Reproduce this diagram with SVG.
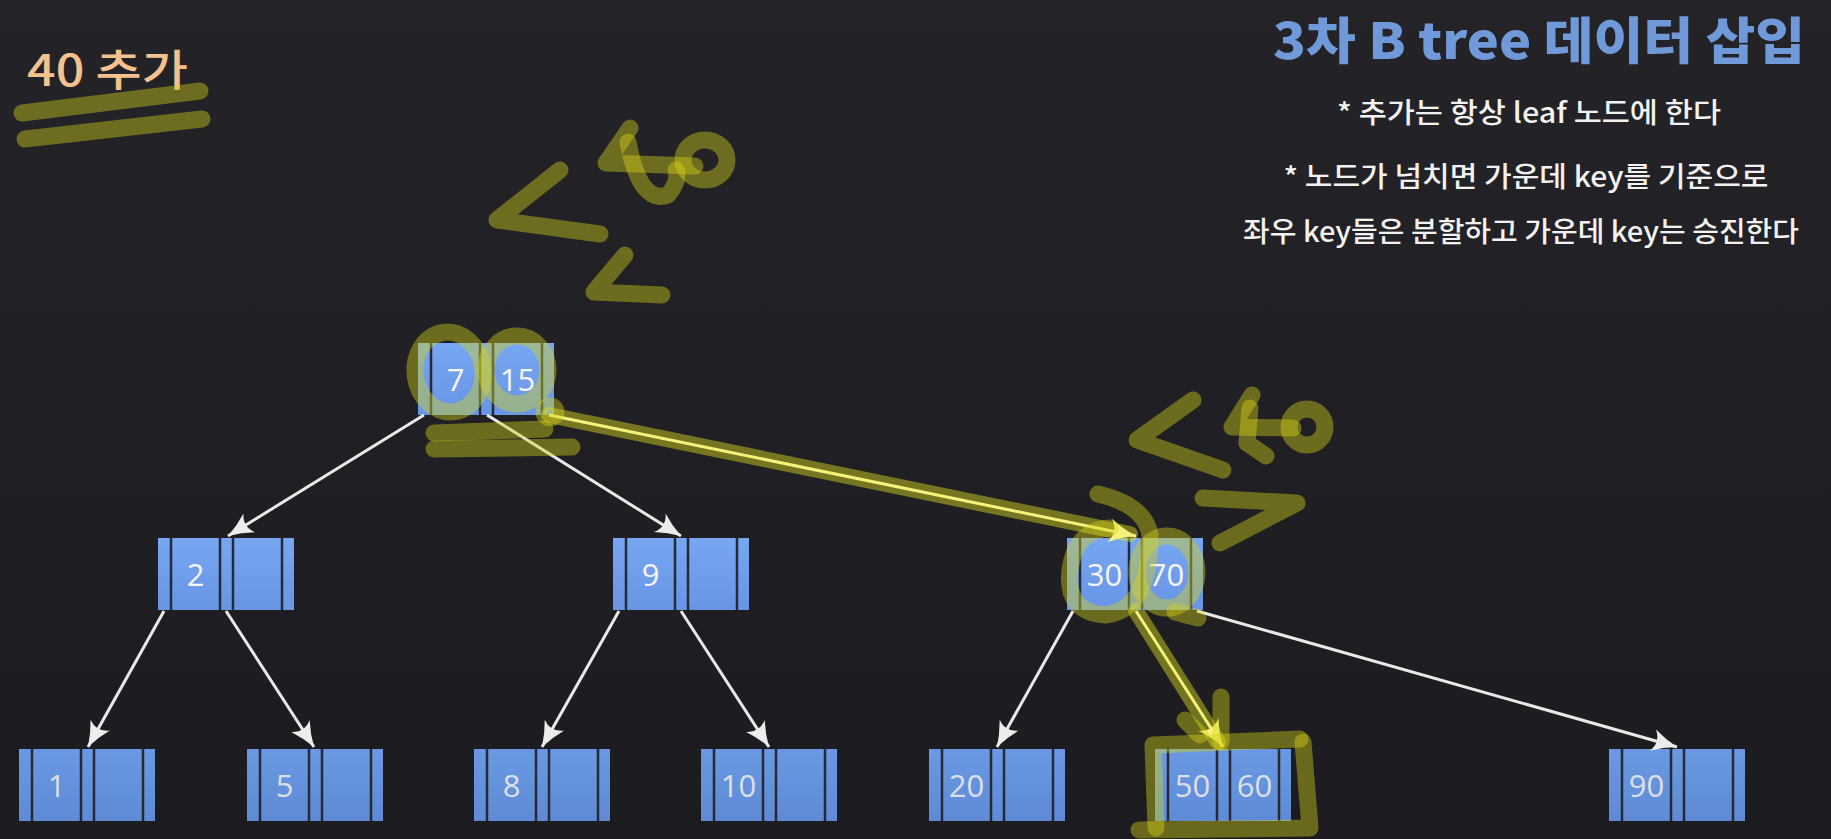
<svg xmlns="http://www.w3.org/2000/svg" width="1831" height="839" viewBox="0 0 1831 839">
<defs>
<linearGradient id="bg" x1="0" y1="0" x2="0" y2="1"><stop offset="0" stop-color="#242327"/><stop offset="1" stop-color="#1c1b1f"/></linearGradient>
<linearGradient id="nb" x1="0" y1="0" x2="0" y2="1"><stop offset="0" stop-color="#77a6f2"/><stop offset="1" stop-color="#6895e4"/></linearGradient>
<linearGradient id="lb" x1="0" y1="0" x2="0" y2="1"><stop offset="0" stop-color="#6a98e2"/><stop offset="1" stop-color="#5f8bd6"/></linearGradient>
<marker id="aw" markerUnits="userSpaceOnUse" markerWidth="30" markerHeight="30" viewBox="0 0 30 30" refX="27" refY="15" orient="auto"><path d="M2,4 Q14,11 27,15 Q14,19 2,26 Q10,15 2,4 Z" fill="#ececec"/></marker>
<marker id="ay" markerUnits="userSpaceOnUse" markerWidth="32" markerHeight="32" viewBox="0 0 32 32" refX="29" refY="16" orient="auto"><path d="M2,4 Q15,12 29,16 Q15,20 2,28 Q11,16 2,4 Z" fill="#f4f27a"/></marker>
<style>
.node rect.b{fill:url(#nb)}
.leaf rect.b{fill:url(#lb)}
.dv{stroke:#262a36;stroke-width:2.5}
.k{font-family:"Open Sans","Noto Sans",sans-serif;font-size:31px;fill:#f4f6fa;text-anchor:middle}
.leaf .k{fill:#dcdfe6}
.c{stroke:#e9e9e9;stroke-width:3;fill:none;marker-end:url(#aw)}
.cy{stroke:#f4f27a;stroke-width:3;fill:none;marker-end:url(#ay)}
.halo{stroke:rgba(225,225,30,0.45);stroke-width:16;fill:none;stroke-linecap:round}
.hl{stroke:rgba(215,213,25,0.42);stroke-width:17;fill:none;stroke-linecap:round;stroke-linejoin:round}
.t{font-family:"Noto Sans CJK KR","Noto Sans",sans-serif;fill:#f2f2f2;font-size:28px;font-weight:500;text-anchor:middle}
</style>
<g id="cellsNode">
<line class="dv" x1="13" y1="0" x2="13" y2="72"/><line class="dv" x1="62" y1="0" x2="62" y2="72"/><line class="dv" x1="75" y1="0" x2="75" y2="72"/><line class="dv" x1="124" y1="0" x2="124" y2="72"/>
</g>
</defs>
<rect width="1831" height="839" fill="url(#bg)"/>

<text x="1539" y="59" font-family="Noto Sans CJK KR, Noto Sans, sans-serif" font-weight="900" font-size="50" fill="#7099da" text-anchor="middle" textLength="532" lengthAdjust="spacingAndGlyphs">3차 B tree 데이터 삽입</text>
<text class="t" x="1529" y="123" textLength="384" lengthAdjust="spacingAndGlyphs">* 추가는 항상 leaf 노드에 한다</text>
<text class="t" x="1526" y="187" textLength="485" lengthAdjust="spacingAndGlyphs">* 노드가 넘치면 가운데 key를 기준으로</text>
<text class="t" x="1521" y="242" textLength="556" lengthAdjust="spacingAndGlyphs">좌우 key들은 분할하고 가운데 key는 승진한다</text>
<text x="27" y="86" font-family="Noto Sans CJK KR, Noto Sans, sans-serif" font-weight="500" font-size="43" fill="#f5c28f" textLength="161" lengthAdjust="spacingAndGlyphs">40 추가</text>

<g id="root" class="node" transform="translate(418,343)"><rect class="b" width="136" height="72"/><use href="#cellsNode"/><text class="k" x="37.5" y="48">7</text><text class="k" x="99.5" y="48">15</text></g>
<g id="n2" class="node" transform="translate(158,538)"><rect class="b" width="136" height="72"/><use href="#cellsNode"/><text class="k" x="37.5" y="48">2</text></g>
<g id="n9" class="node" transform="translate(613,538)"><rect class="b" width="136" height="72"/><use href="#cellsNode"/><text class="k" x="37.5" y="48">9</text></g>
<g id="n30" class="node" transform="translate(1067,538)"><rect class="b" width="136" height="72"/><use href="#cellsNode"/><text class="k" x="37.5" y="48">30</text><text class="k" x="99.5" y="48">70</text></g>
<g id="l1" class="leaf" transform="translate(19,749)"><rect class="b" width="136" height="72"/><use href="#cellsNode"/><text class="k" x="37.5" y="48">1</text></g>
<g id="l5" class="leaf" transform="translate(247,749)"><rect class="b" width="136" height="72"/><use href="#cellsNode"/><text class="k" x="37.5" y="48">5</text></g>
<g id="l8" class="leaf" transform="translate(474,749)"><rect class="b" width="136" height="72"/><use href="#cellsNode"/><text class="k" x="37.5" y="48">8</text></g>
<g id="l10" class="leaf" transform="translate(701,749)"><rect class="b" width="136" height="72"/><use href="#cellsNode"/><text class="k" x="37.5" y="48">10</text></g>
<g id="l20" class="leaf" transform="translate(929,749)"><rect class="b" width="136" height="72"/><use href="#cellsNode"/><text class="k" x="37.5" y="48">20</text></g>
<g id="l50" class="leaf" transform="translate(1155,749)"><rect class="b" width="136" height="72"/><use href="#cellsNode"/><text class="k" x="37.5" y="48">50</text><text class="k" x="99.5" y="48">60</text></g>
<g id="l90" class="leaf" transform="translate(1609,749)"><rect class="b" width="136" height="72"/><use href="#cellsNode"/><text class="k" x="37.5" y="48">90</text></g>

<g id="connectors">
<line class="c" x1="424" y1="415" x2="228" y2="536"/>
<line class="c" x1="487" y1="415" x2="681" y2="536"/>
<line class="c" x1="164" y1="611" x2="88" y2="747"/>
<line class="c" x1="226" y1="611" x2="314" y2="747"/>
<line class="c" x1="619" y1="611" x2="542" y2="747"/>
<line class="c" x1="681" y1="611" x2="769" y2="747"/>
<line class="c" x1="1073" y1="611" x2="997" y2="747"/>
<line class="c" x1="1197" y1="611" x2="1677" y2="747"/>
<line class="halo" x1="549" y1="415" x2="1130" y2="534"/>
<line class="cy" x1="549" y1="415" x2="1136" y2="536"/>
<line class="halo" x1="1136" y1="611" x2="1218" y2="742"/>
<line class="cy" x1="1136" y1="611" x2="1223" y2="747"/>
</g>

<g id="scribbles">
<line class="hl" x1="22" y1="113" x2="200" y2="91"/>
<line class="hl" x1="25" y1="139" x2="202" y2="119"/>
<path class="hl" d="M560,170 L497,220 L600,234"/>
<path class="hl" d="M625,255 L594,292 L662,295"/>
<path class="hl" d="M630,128 L606,163 L695,166"/>
<path class="hl" d="M628,142 Q640,205 668,195 Q680,180 676,170"/>
<ellipse class="hl" cx="705" cy="160" rx="22" ry="20"/>
<ellipse class="hl" cx="449" cy="372" rx="34" ry="40" transform="rotate(-8 449 372)"/>
<ellipse class="hl" cx="517" cy="370" rx="31" ry="34"/>
<circle class="hl" cx="550" cy="412" r="6"/>
<line class="hl" x1="434" y1="433" x2="545" y2="429" stroke-width="14"/>
<line class="hl" x1="434" y1="449" x2="572" y2="447" stroke-width="14"/>
<path class="hl" d="M1193,400 L1137,440 L1223,470"/>
<path class="hl" d="M1252,395 L1232,427 L1293,428"/>
<path class="hl" d="M1250,408 L1247,443 L1266,456"/>
<circle class="hl" cx="1307" cy="427" r="18"/>
<path class="hl" d="M1203,498 L1297,503 L1220,543"/>
<path class="hl" d="M1098,494 Q1145,505 1150,535 Q1150,610 1105,615 Q1065,612 1070,570 Q1075,530 1110,528"/>
<ellipse class="hl" cx="1167" cy="572" rx="30" ry="36"/>
<path class="hl" d="M1175,612 L1198,618"/>
<path class="hl" d="M1221,697 L1221,742"/>
<path class="hl" d="M1185,720 L1200,735"/>
<path class="hl" d="M1300,739 L1153,745 L1156,828"/>
<path class="hl" d="M1139,830 L1310,828 L1303,742"/>
</g>
</svg>
